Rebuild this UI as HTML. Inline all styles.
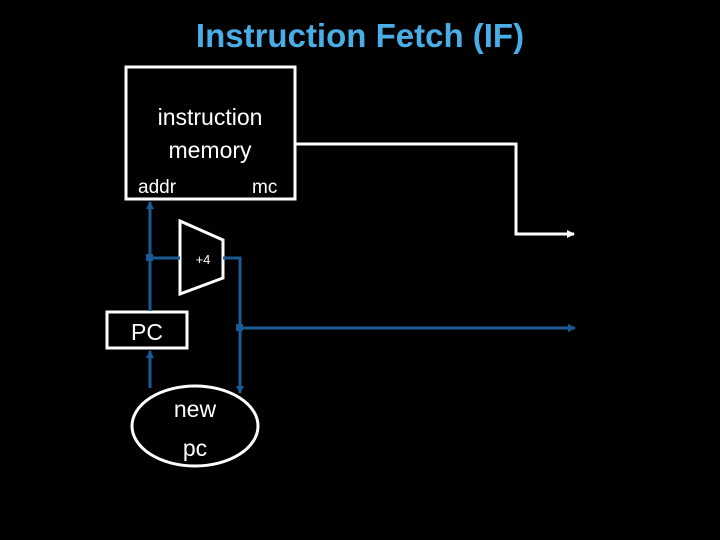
<!DOCTYPE html>
<html><head><style>
body{margin:0;background:#000;width:720px;height:540px;overflow:hidden}
</style></head><body>
<svg width="720" height="540" xmlns="http://www.w3.org/2000/svg" style="position:absolute;left:0;top:0">
<defs>
<marker id="bw" markerWidth="8" markerHeight="8" refX="7" refY="4" orient="auto" markerUnits="userSpaceOnUse"><path d="M0,0 L8,4 L0,8 Z" fill="#fff"/></marker>
<marker id="bb" markerWidth="8" markerHeight="8" refX="7" refY="4" orient="auto" markerUnits="userSpaceOnUse"><path d="M0,0 L8,4 L0,8 Z" fill="#1a5a96"/></marker>
</defs>
<text x="360" y="47" text-anchor="middle" font-family="Liberation Sans, sans-serif" font-weight="bold" font-size="33" fill="#4aaee6">Instruction Fetch (IF)</text>
<rect x="126" y="67" width="169" height="132" fill="none" stroke="#fff" stroke-width="3"/>
<text x="210" y="125" text-anchor="middle" font-family="Liberation Sans, sans-serif" font-size="23" fill="#fff">instruction</text>
<text x="210" y="158" text-anchor="middle" font-family="Liberation Sans, sans-serif" font-size="23" fill="#fff">memory</text>
<text x="138" y="193" font-family="Liberation Sans, sans-serif" font-size="19" fill="#fff">addr</text>
<text x="252" y="193" font-family="Liberation Sans, sans-serif" font-size="19" fill="#fff">mc</text>
<polyline points="295,144 516,144 516,234 574,234" fill="none" stroke="#fff" stroke-width="3" marker-end="url(#bw)"/>
<polygon points="180,221 223,240 223,278 180,294" fill="none" stroke="#fff" stroke-width="3"/>
<text x="203" y="264" text-anchor="middle" font-family="Liberation Sans, sans-serif" font-size="13" fill="#fff">+4</text>
<rect x="107" y="312" width="80" height="36" fill="none" stroke="#fff" stroke-width="3"/>
<text x="147" y="340" text-anchor="middle" font-family="Liberation Sans, sans-serif" font-size="23" fill="#fff">PC</text>
<ellipse cx="195" cy="426" rx="63" ry="40" fill="none" stroke="#fff" stroke-width="3"/>
<text x="195" y="417" text-anchor="middle" font-family="Liberation Sans, sans-serif" font-size="23" fill="#fff">new</text>
<text x="195" y="456" text-anchor="middle" font-family="Liberation Sans, sans-serif" font-size="23" fill="#fff">pc</text>
<g stroke="#1a5a96" stroke-width="3" fill="none">
<line x1="150" y1="311" x2="150" y2="202" marker-end="url(#bb)"/>
<line x1="150" y1="258" x2="180" y2="258"/>
<polyline points="223,258 240,258 240,393" marker-end="url(#bb)"/>
<line x1="240" y1="328" x2="575" y2="328" marker-end="url(#bb)"/>
<line x1="150" y1="388" x2="150" y2="351" marker-end="url(#bb)"/>
</g>
<rect x="146" y="254" width="7" height="7" fill="#1a5a96"/>
<rect x="236" y="324" width="7" height="7" fill="#1a5a96"/>
</svg>
</body></html>
